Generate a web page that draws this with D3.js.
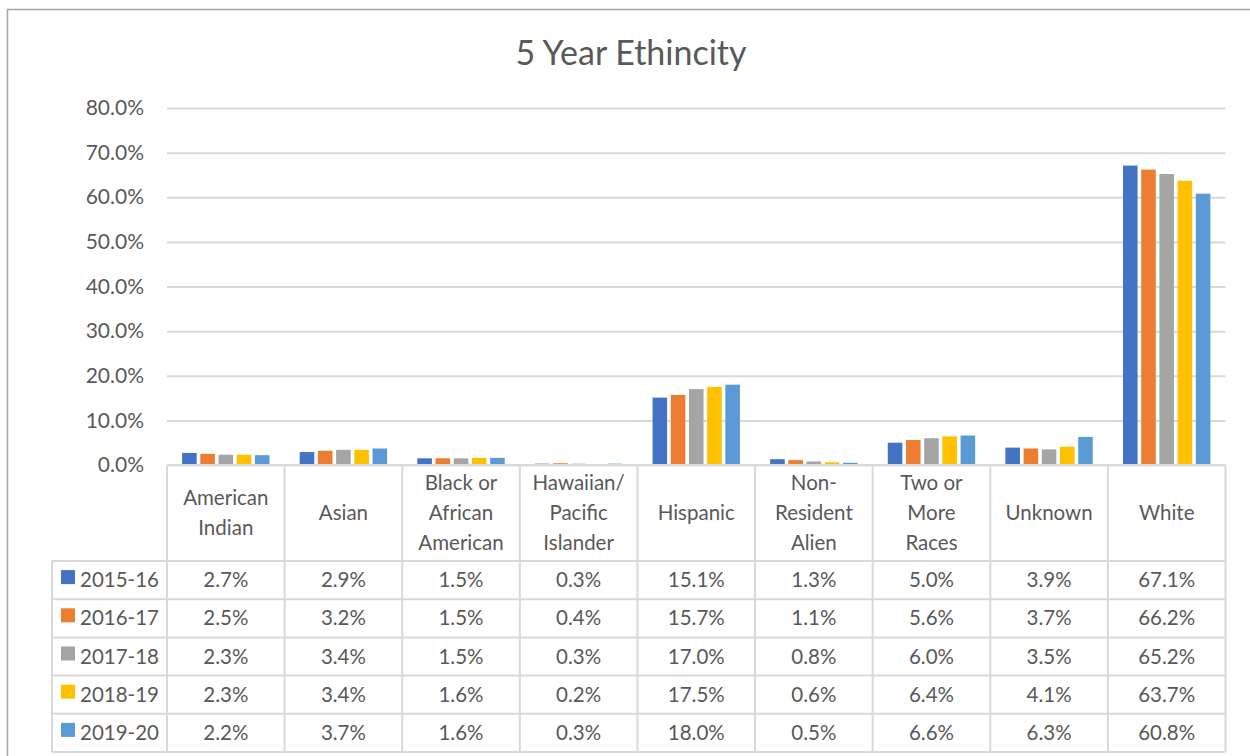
<!DOCTYPE html>
<html>
<head>
<meta charset="utf-8">
<script src="https://cdn.jsdelivr.net/npm/d3@7"></script>
<style>
  html, body { margin: 0; padding: 0; background: #fff; }
  svg { display: block; }
  text { font-family: Lato, "Open Sans", sans-serif; fill: #595959; }
</style>
</head>
<body>
<svg id="chart" width="1250" height="756"></svg>
<script>
// ---- data ----
const categories = ["American Indian", "Asian", "Black or African American", "Hawaiian/ Pacific Islander",
  "Hispanic", "Non-Resident Alien", "Two or More Races", "Unknown", "White"];
const categoryLines = [["American", "Indian"], ["Asian"], ["Black or", "African", "American"],
  ["Hawaiian/", "Pacific", "Islander"], ["Hispanic"], ["Non-", "Resident", "Alien"],
  ["Two or", "More", "Races"], ["Unknown"], ["White"]];
const seriesNames = ["2015-16", "2016-17", "2017-18", "2018-19", "2019-20"];
const v2015 = [2.7, 2.9, 1.5, 0.3, 15.1, 1.3, 5.0, 3.9, 67.1];
const v2016 = [2.5, 3.2, 1.5, 0.4, 15.7, 1.1, 5.6, 3.7, 66.2];
const v2017 = [2.3, 3.4, 1.5, 0.3, 17.0, 0.8, 6.0, 3.5, 65.2];
const v2018 = [2.3, 3.4, 1.6, 0.2, 17.5, 0.6, 6.4, 4.1, 63.7];
const v2019 = [2.2, 3.7, 1.6, 0.3, 18.0, 0.5, 6.6, 6.3, 60.8];
const seriesValues = [v2015, v2016, v2017, v2018, v2019];
const colors = ["#4472C4", "#ED7D31", "#A5A5A5", "#FFC000", "#5B9BD5"];
const yTicks = [0, 10, 20, 30, 40, 50, 60, 70, 80];
const title = "5 Year Ethincity";

// ---- layout ----
const svg = d3.select("#chart");
const plotLeft = 167, plotRight = 1225.5, plotTop = 108, plotBottom = 465;
const tableLeft = 52, headerBottom = 561, rowH = 38.2;
const textColor = "#595959", lineColor = "#D9D9D9";
const fs = 20.5;

// chart frame
svg.append("path")
  .attr("d", `M7.5,760 L7.5,9.5 L1260,9.5`)
  .attr("fill", "none").attr("stroke", "#A6A6A6").attr("stroke-width", 1.5);

// title
svg.append("text").attr("x", 631).attr("y", 65)
  .attr("text-anchor", "middle").attr("font-size", 34).text(title);

const x0 = d3.scaleBand().domain(categories).range([plotLeft, plotRight]).padding(0);
const x1 = d3.scaleBand().domain(seriesNames).range([0, x0.bandwidth()])
  .paddingInner(0.2).paddingOuter(0.83);
const y = d3.scaleLinear().domain([0, 80]).range([plotBottom, plotTop]);

// y axis with gridlines
const yAxis = d3.axisLeft(y).tickValues(yTicks)
  .tickFormat(d => d.toFixed(1) + "%")
  .tickSize(-(plotRight - plotLeft)).tickPadding(23);
const gy = svg.append("g").attr("transform", `translate(${plotLeft},0)`).call(yAxis);
gy.select(".domain").remove();
gy.selectAll(".tick line").attr("stroke", lineColor).attr("stroke-width", 2);
gy.selectAll(".tick text").attr("font-size", fs + 0.5).attr("fill", textColor)
  .style("font-family", "Lato, 'Open Sans', sans-serif");

// bars
const groups = svg.append("g").selectAll("g").data(categories).join("g")
  .attr("transform", d => `translate(${x0(d)},0)`);
groups.selectAll("rect")
  .data((c, ci) => seriesNames.map((s, si) => ({ s, si, v: seriesValues[si][ci] })))
  .join("rect")
  .attr("x", d => x1(d.s))
  .attr("width", x1.bandwidth())
  .attr("y", d => y(d.v))
  .attr("height", d => plotBottom - y(d.v))
  .attr("fill", d => colors[d.si]);

// ---- data table ----
const table = svg.append("g");
const rowY = i => headerBottom + i * rowH;
const tableBottom = rowY(seriesNames.length);
const boundaries = categories.map(c => x0(c)).concat([plotRight]);

// horizontal lines
table.append("line").attr("x1", plotLeft).attr("x2", plotRight)
  .attr("y1", plotBottom).attr("y2", plotBottom);
seriesNames.concat([null]).forEach((s, i) => {
  table.append("line").attr("x1", tableLeft).attr("x2", plotRight)
    .attr("y1", rowY(i)).attr("y2", rowY(i));
});
// vertical lines
boundaries.forEach(bx => {
  table.append("line").attr("x1", bx).attr("x2", bx)
    .attr("y1", plotBottom).attr("y2", tableBottom);
});
table.append("line").attr("x1", tableLeft).attr("x2", tableLeft)
  .attr("y1", headerBottom).attr("y2", tableBottom);
table.selectAll("line").attr("stroke", lineColor).attr("stroke-width", 2);

// header labels
const lineH = 30;
categories.forEach((c, ci) => {
  const lines = categoryLines[ci];
  const cx = x0(c) + x0.bandwidth() / 2;
  const cy = (plotBottom + headerBottom) / 2;
  const t = table.append("text").attr("text-anchor", "middle").attr("font-size", fs);
  lines.forEach((ln, li) => {
    t.append("tspan").attr("x", cx)
      .attr("y", cy + (li - (lines.length - 1) / 2) * lineH + 7).text(ln);
  });
});

// rows
seriesNames.forEach((s, si) => {
  const cy = rowY(si) + rowH / 2 + 7;
  table.append("rect").attr("x", 61).attr("y", cy - 17).attr("width", 14).attr("height", 14)
    .attr("fill", colors[si]);
  table.append("text").attr("x", 80).attr("y", cy).attr("font-size", fs).text(s);
  categories.forEach((c, ci) => {
    table.append("text").attr("x", x0(c) + x0.bandwidth() / 2).attr("y", cy)
      .attr("text-anchor", "middle").attr("font-size", fs)
      .text(seriesValues[si][ci].toFixed(1) + "%");
  });
});
</script>
</body>
</html>
